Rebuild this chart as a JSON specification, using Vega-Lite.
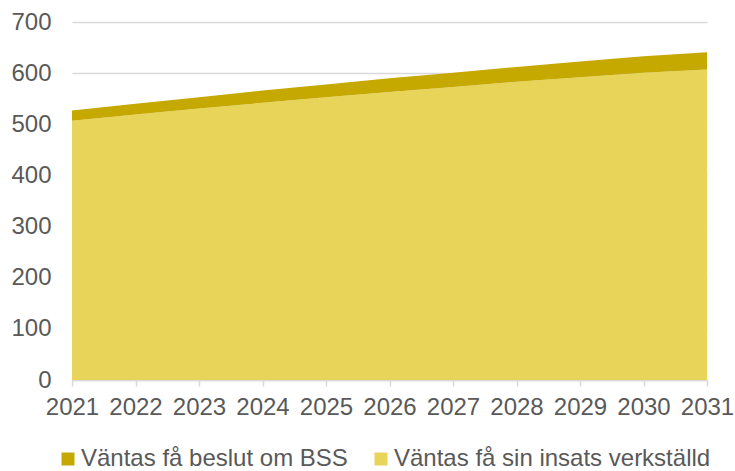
{
  "$schema": "https://vega.github.io/schema/vega-lite/v6.json",
  "width": 635,
  "height": 358,
  "autosize": "none",
  "padding": {"left": 72, "top": 22, "right": 28, "bottom": 91},
  "config": {"font": "Liberation Sans", "view": {"stroke": null}},
  "data": {
    "values": [
      {"year": 2021, "series": "Väntas få sin insats verkställd", "value": 507},
      {"year": 2022, "series": "Väntas få sin insats verkställd", "value": 519},
      {"year": 2023, "series": "Väntas få sin insats verkställd", "value": 531},
      {"year": 2024, "series": "Väntas få sin insats verkställd", "value": 542},
      {"year": 2025, "series": "Väntas få sin insats verkställd", "value": 553},
      {"year": 2026, "series": "Väntas få sin insats verkställd", "value": 563},
      {"year": 2027, "series": "Väntas få sin insats verkställd", "value": 573},
      {"year": 2028, "series": "Väntas få sin insats verkställd", "value": 583},
      {"year": 2029, "series": "Väntas få sin insats verkställd", "value": 592},
      {"year": 2030, "series": "Väntas få sin insats verkställd", "value": 601},
      {"year": 2031, "series": "Väntas få sin insats verkställd", "value": 607},
      {"year": 2021, "series": "Väntas få beslut om BSS", "value": 20},
      {"year": 2022, "series": "Väntas få beslut om BSS", "value": 21},
      {"year": 2023, "series": "Väntas få beslut om BSS", "value": 22},
      {"year": 2024, "series": "Väntas få beslut om BSS", "value": 24},
      {"year": 2025, "series": "Väntas få beslut om BSS", "value": 25},
      {"year": 2026, "series": "Väntas få beslut om BSS", "value": 27},
      {"year": 2027, "series": "Väntas få beslut om BSS", "value": 28},
      {"year": 2028, "series": "Väntas få beslut om BSS", "value": 29},
      {"year": 2029, "series": "Väntas få beslut om BSS", "value": 31},
      {"year": 2030, "series": "Väntas få beslut om BSS", "value": 32},
      {"year": 2031, "series": "Väntas få beslut om BSS", "value": 34}
    ]
  },
  "mark": {"type": "area", "opacity": 1},
  "encoding": {
    "x": {
      "field": "year",
      "type": "quantitative",
      "scale": {"domain": [2021, 2031], "nice": false, "zero": false},
      "axis": {
        "values": [2021, 2022, 2023, 2024, 2025, 2026, 2027, 2028, 2029, 2030, 2031],
        "format": "d",
        "title": null,
        "grid": false,
        "domainColor": "#D9D9D9",
        "domainWidth": 1.5,
        "tickColor": "#D9D9D9",
        "tickWidth": 1.5,
        "tickSize": 6,
        "labelFontSize": 24,
        "labelColor": "#595959",
        "labelPadding": 9,
        "labelFlush": false,
        "labelOverlap": false
      }
    },
    "y": {
      "field": "value",
      "type": "quantitative",
      "stack": "zero",
      "scale": {"domain": [0, 700], "nice": false},
      "axis": {
        "values": [0, 100, 200, 300, 400, 500, 600, 700],
        "title": null,
        "domain": false,
        "ticks": false,
        "gridColor": "#D9D9D9",
        "gridWidth": 1.5,
        "labelFontSize": 24,
        "labelColor": "#595959",
        "labelPadding": 21
      }
    },
    "color": {
      "field": "series",
      "type": "nominal",
      "scale": {
        "domain": ["Väntas få beslut om BSS", "Väntas få sin insats verkställd"],
        "range": ["#C5A800", "#E9D45A"]
      },
      "legend": {
        "orient": "none",
        "legendX": -16,
        "legendY": 425,
        "direction": "horizontal",
        "title": null,
        "symbolType": "square",
        "symbolSize": 169,
        "symbolStrokeWidth": 0,
        "symbolOpacity": 1,
        "labelFontSize": 24,
        "labelColor": "#595959",
        "labelOffset": 1,
        "columnPadding": 21,
        "labelLimit": 400
      }
    },
    "order": {"field": "series", "sort": "descending"}
  }
}
